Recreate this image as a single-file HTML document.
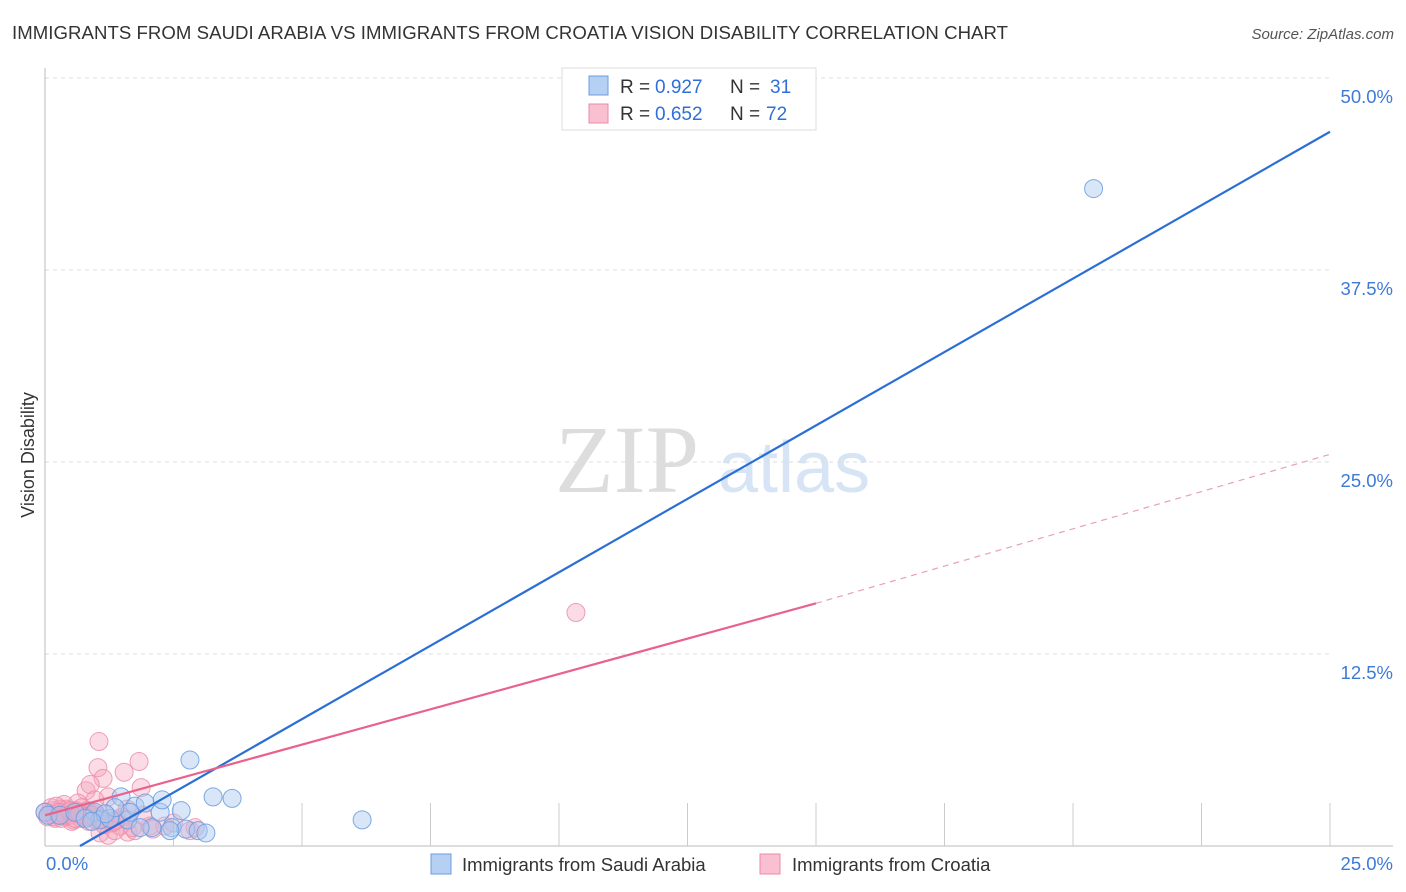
<!DOCTYPE html>
<html><head><meta charset="utf-8"><style>
body{margin:0;background:#fff;font-family:"Liberation Sans",sans-serif}
svg{display:block}
</style></head><body>
<svg id="chart" width="1406" height="892">
<text x="12" y="39" font-size="18.6" fill="#333" textLength="996">IMMIGRANTS FROM SAUDI ARABIA VS IMMIGRANTS FROM CROATIA VISION DISABILITY CORRELATION CHART</text>
<text x="1394" y="39" font-size="15" fill="#555" font-style="italic" text-anchor="end">Source: ZipAtlas.com</text>
<text x="34" y="455" font-size="18" fill="#333" transform="rotate(-90 34 455)" text-anchor="middle">Vision Disability</text>
<text x="555" y="492" font-size="96" fill="#ddd" font-family="Liberation Serif,serif">ZIP</text>
<text x="718" y="492" font-size="72" fill="#d6e4f5">atlas</text>
<g id="grid"></g><g id="pts"></g><g id="lines"></g>
<g>
<rect x="562" y="68" width="254" height="62" fill="#fff" stroke="#ddd"/>
<rect x="589" y="76" width="19" height="19" fill="#b5d0f3" stroke="#6a9be0"/>
<rect x="589" y="104" width="19" height="19" fill="#f8c0d0" stroke="#ec8aa8"/>
<text x="620" y="93" font-size="19" fill="#333">R =</text><text x="655" y="93" font-size="19" fill="#2f6fd8">0.927</text>
<text x="730" y="93" font-size="19" fill="#333">N =</text><text x="770" y="93" font-size="19" fill="#2f6fd8">31</text>
<text x="620" y="120" font-size="19" fill="#333">R =</text><text x="655" y="120" font-size="19" fill="#2f6fd8">0.652</text>
<text x="730" y="120" font-size="19" fill="#333">N =</text><text x="766" y="120" font-size="19" fill="#2f6fd8">72</text>
</g>
<g>
<rect x="431" y="854" width="20" height="20" fill="#b5d0f3" stroke="#6a9be0"/>
<text x="462" y="871" font-size="18.5" fill="#333">Immigrants from Saudi Arabia</text>
<rect x="760" y="854" width="20" height="20" fill="#f8c0d0" stroke="#ec8aa8"/>
<text x="792" y="871" font-size="18.5" fill="#333">Immigrants from Croatia</text>
</g>
</svg>
<script>
const xTicks=[0,25];
const yTicks=[12.5,25,37.5,50];
const yTickLabels=["12.5%","25.0%","37.5%","50.0%"];
const blueX=[0,0.06,0.97,1.07,1.26,1.48,1.61,1.75,1.95,2.08,2.24,2.28,2.47,2.65,2.74,2.82,2.98,3.13,3.27,3.64,6.17,20.4,0.29,0.58,0.78,1.65,1.85,1.36,1.17,0.91,2.43];
const blueY=[2.2,2.0,2.2,1.7,1.8,3.2,1.7,2.6,2.8,1.2,2.2,3.0,1.2,2.3,1.1,5.6,1.0,0.85,3.2,3.1,1.7,42.8,2.0,2.2,1.8,2.2,1.2,2.5,2.1,1.6,1.0];
const pinkX=[1.05,1.03,1.13,1.54,1.83,1.87,0.8,0.88,10.33,1.23,0.97,0.37,0.64,1.07,1.23,1.61,1.75,2.04,2.33,2.82,2.92,1.46,1.36,0,0.05,0.1,0.15,0.2,0.25,0.3,0.35,0.4,0.45,0.5,0.55,0.6,0.65,0.7,0.75,0.8,0.85,0.9,0.95,1.0,1.1,1.2,1.3,1.4,1.5,0.12,0.22,0.32,0.42,0.52,0.62,0.72,0.82,0.92,0.18,0.28,0.38,0.48,0.58,0.68,0.78,1.15,1.35,1.6,1.7,1.9,2.1,2.5];
const pinkY=[6.8,5.1,4.4,4.8,5.5,3.8,3.6,4.0,15.2,3.2,3.0,2.7,2.8,0.85,0.7,0.9,1.0,1.3,1.3,1.0,1.2,1.3,1.0,2.2,1.9,2.1,2.3,1.8,2.0,2.4,2.1,1.9,2.2,2.0,1.7,2.3,2.1,1.8,2.0,2.2,1.6,1.9,2.1,1.7,1.8,2.0,1.5,1.7,1.9,2.5,2.6,1.8,2.4,1.6,2.2,2.5,2.3,2.0,1.9,2.2,2.0,2.3,1.8,2.1,1.9,1.4,1.6,2.4,1.2,2.0,1.1,1.5];
const blueFit=[0.68,0,25,46.5];
const pinkFit=[0,2.0,15.0,15.8,25,25.5];
const X=v=>45+v/25*1285, Y=v=>846-v/50*768;
const NS="http://www.w3.org/2000/svg";
function mk(t,a,p){const e=document.createElementNS(NS,t);for(const k in a)e.setAttribute(k,a[k]);p.appendChild(e);return e;}
const g=document.getElementById('grid');
yTicks.forEach((v,i)=>{
 const l=mk('line',{x1:45,x2:1330,y1:Y(v),y2:Y(v),stroke:'#ddd','stroke-dasharray':'4 4'},g);
 
 
 const t=mk('text',{x:1393,y:Y(v)+25,'font-size':18.5,fill:'#3d7ad8','text-anchor':'end'},g);t.textContent=yTickLabels[i];
 
 
});
mk('line',{x1:45,x2:45,y1:68,y2:846,stroke:'#bbb'},g);
mk('line',{x1:45,x2:1393,y1:846,y2:846,stroke:'#bbb'},g);
for(let i=1;i<=10;i++){mk('line',{x1:X(i*2.5),x2:X(i*2.5),y1:803,y2:846,stroke:'#ccc'},g);}
xTicks.forEach(v=>{const t=mk('text',{x:v===0?46:1393,y:870,'font-size':18.5,fill:'#3d7ad8','text-anchor':v===0?'start':'end'},g);t.textContent=v.toFixed(1)+'%';
 
 });
const p=document.getElementById('pts');
pinkX.forEach((v,i)=>{const c=mk('circle',{cx:X(v),cy:Y(pinkY[i]),r:9,fill:'#f4a6bd','fill-opacity':0.4,stroke:'#ec8aa8','stroke-opacity':0.8},p);
 
 });
blueX.forEach((v,i)=>{const c=mk('circle',{cx:X(v),cy:Y(blueY[i]),r:9,fill:'#a9c8f0','fill-opacity':0.45,stroke:'#6a9be0','stroke-opacity':0.85},p);
 
 });
const L=document.getElementById('lines');
const bl=mk('line',{x1:X(blueFit[0]),y1:Y(blueFit[1]),x2:X(blueFit[2]),y2:Y(blueFit[3]),stroke:'#2a6fd6','stroke-width':2.2},L);


const pl=mk('line',{x1:X(pinkFit[0]),y1:Y(pinkFit[1]),x2:X(pinkFit[2]),y2:Y(pinkFit[3]),stroke:'#e8628c','stroke-width':2.2},L);


const pd=mk('line',{x1:X(pinkFit[2]),y1:Y(pinkFit[3]),x2:X(pinkFit[4]),y2:Y(pinkFit[5]),stroke:'#e8a0b6','stroke-width':1.2,'stroke-dasharray':'6 5'},L);


</script>
</body></html>
